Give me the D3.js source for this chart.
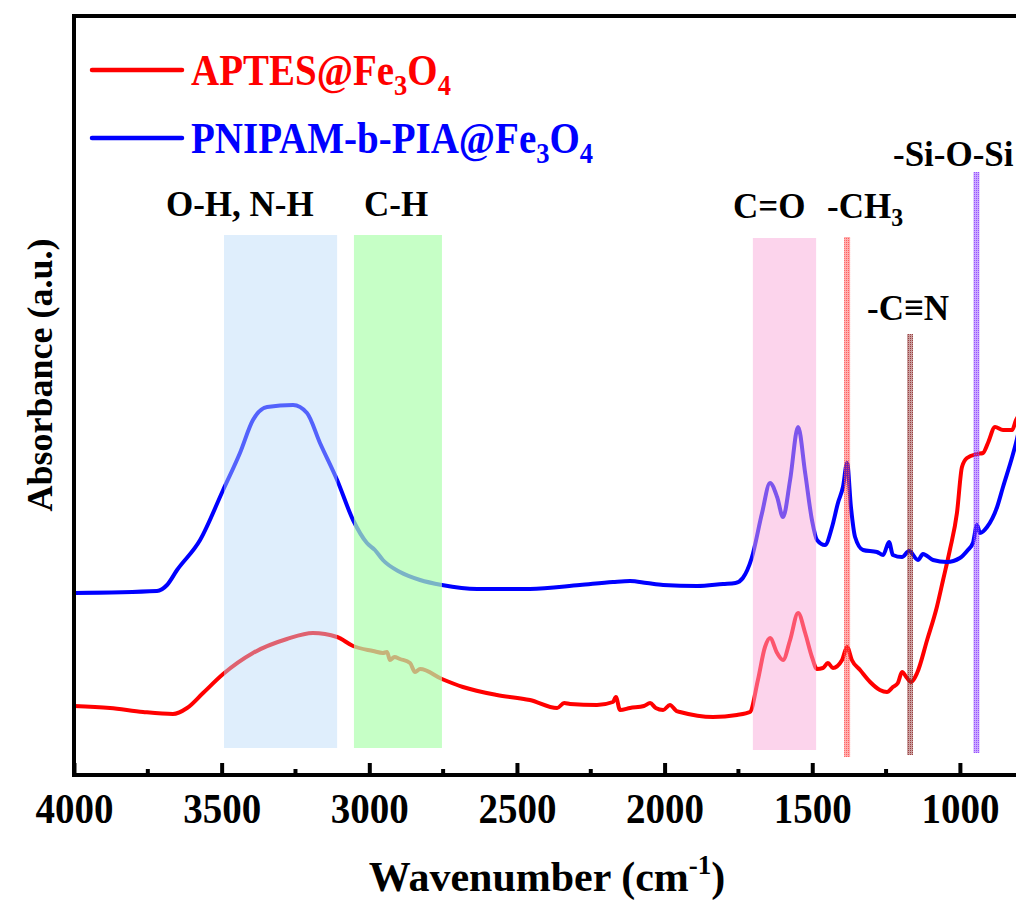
<!DOCTYPE html>
<html>
<head>
<meta charset="utf-8">
<script src="https://cdn.jsdelivr.net/npm/d3@7"></script>
<style>
	body { margin: 0; background: #fff; }
	text { font-family: "Liberation Serif", "Times New Roman", serif; font-weight: bold; }
</style>
</head>
<body>
<div id="chart"></div>
<script>
	// FTIR spectra, [wavenumber, absorbance (a.u.)]
	var aptes = [[4000,69],[3878,67],[3766,63],[3665,61],[3617,67],[3563,82],[3495,101],[3394,122],[3279,136],
		[3191,142],[3109,138],[3055,129],[2987,124],[2954,122],[2940,123],[2930,115],[2915,118],[2896,116],
		[2862,112],[2845,103],[2828,106],[2754,96],[2683,88],[2568,80],[2456,75],[2364,67],[2340,72],[2320,71],
		[2229,70],[2175,73],[2165,78],[2151,65],[2117,67],[2070,69],[2049,72],[2030,67],[2005,65],[1982,70],
		[1960,64],[1948,63],[1836,58],[1755,60],[1711,63],[1684,95],[1660,128],[1643,137],[1619,122],[1599,115],
		[1575,135],[1548,162],[1524,142],[1501,118],[1484,106],[1464,107],[1447,112],[1430,107],[1399,115],
		[1382,128],[1366,115],[1338,105],[1304,93],[1271,85],[1247,83],[1227,88],[1210,92],[1196,103],[1179,97],
		[1166,93],[1145,102],[1111,135],[1078,168],[1057,195],[1034,225],[1010,262],[993,308],[976,317],
		[942,321],[922,322],[905,332],[881,348],[854,345],[823,345],[810,355],[800,360]];

	var pnipam = [[4000,182],[3719,184],[3685,190],[3651,205],[3573,235],[3495,285],[3438,322],[3394,355],
		[3346,368],[3258,370],[3211,362],[3167,332],[3109,295],[3055,255],[3008,232],[2981,225],[2954,215],
		[2896,203],[2828,195],[2754,190],[2635,186],[2456,186],[2287,190],[2175,193],[2117,194],[2060,192],
		[2005,190],[1890,189],[1802,191],[1760,192],[1735,197],[1705,217],[1670,262],[1643,292],[1619,278],
		[1599,258],[1575,295],[1548,348],[1524,302],[1501,255],[1484,235],[1457,230],[1433,248],[1413,272],
		[1396,288],[1382,312],[1369,268],[1355,238],[1328,225],[1281,223],[1260,220],[1240,233],[1227,220],
		[1196,218],[1172,224],[1142,215],[1125,221],[1091,215],[1044,213],[1000,217],[973,225],[956,232],
		[942,250],[932,242],[908,248],[874,268],[854,288],[823,318],[810,332],[800,345]];

	var seriesNames = ['APTES@Fe|3|O|4', 'PNIPAM-b-PIA@Fe|3|O|4'];
	var seriesColors = ['#ff0000', '#0000ff'];

	// shaded assignment bands: wavenumber range and absorbance extent
	var bandRanges = [[3492,3109],[3052,2754],[1701,1487]];
	var bandSpan = [[27,540],[27,540],[25,537]];
	var bandColors = ['rgb(184,218,248)','rgb(174,255,174)','rgb(250,170,218)'];
	var bandAlpha = [0.45, 0.7, 0.5];

	// single-peak markers
	var peaks = [1382, 1169, 944];
	var peakSpan = [[18,538],[20,441],[22,603]];
	var peakColors = ['#ff4a4a', '#8b2a2a', '#8a3cff'];

	var xTicks = [4000, 3500, 3000, 2500, 2000, 1500, 1000];
	var xMinor = [3750, 3250, 2750, 2250, 1750, 1250];

	(function() {
		var width = 1016, height = 900;
		var mLeft = 74, mTop = 16, mBottom = 775;

		var svg = d3.select('#chart').append('svg')
					.attr('width', width)
					.attr('height', height);

		// hatch look for the narrow peak markers
		var defs = svg.append('defs');
		peakColors.forEach(function(c, i){
			var p = defs.append('pattern').attr('id', 'hatch' + i)
						.attr('width', 2).attr('height', 2).attr('patternUnits', 'userSpaceOnUse');
			p.append('rect').attr('width', 2).attr('height', 2).attr('fill', c).attr('fill-opacity', 0.45);
			p.append('rect').attr('width', 1).attr('height', 1).attr('fill', c).attr('fill-opacity', 0.8);
		});

		var x = d3.scaleLinear().domain([4000, 400]).range([mLeft, mLeft + 3600 * 0.2953]);
		var y = d3.scaleLinear().domain([0, 759]).range([mBottom, mTop]);

		svg.append('clipPath').attr('id', 'plotclip')
			.append('rect').attr('x', mLeft).attr('y', mTop).attr('width', width - mLeft).attr('height', mBottom - mTop);

		var plot = svg.append('g').attr('clip-path', 'url(#plotclip)');

		var line = d3.line()
					.x(function(d){ return x(d[0]); })
					.y(function(d){ return y(d[1]); })
					.curve(d3.curveMonotoneX);

		[aptes, pnipam].forEach(function(s, i){
			plot.append('path')
				.attr('d', line(s))
				.attr('fill', 'none')
				.attr('stroke', seriesColors[i])
				.attr('stroke-width', 4)
				.attr('stroke-linejoin', 'round');
		});

		// bands go on top of the curves
		plot.selectAll('rect.band')
			.data(bandRanges)
			.enter()
			.append('rect')
			.attr('class', 'band')
			.attr('x', function(d){ return x(d[0]); })
			.attr('width', function(d){ return x(d[1]) - x(d[0]); })
			.attr('y', function(d, i){ return y(bandSpan[i][1]); })
			.attr('height', function(d, i){ return y(bandSpan[i][0]) - y(bandSpan[i][1]); })
			.attr('fill', function(d, i){ return bandColors[i]; })
			.attr('fill-opacity', function(d, i){ return bandAlpha[i]; });

		plot.selectAll('rect.peak')
			.data(peaks)
			.enter()
			.append('rect')
			.attr('class', 'peak')
			.attr('x', function(d){ return x(d) - 3; })
			.attr('width', 6)
			.attr('y', function(d, i){ return y(peakSpan[i][1]); })
			.attr('height', function(d, i){ return y(peakSpan[i][0]) - y(peakSpan[i][1]); })
			.attr('fill', function(d, i){ return 'url(#hatch' + i + ')'; });

		// axes
		var xAxis = d3.axisBottom(x).tickValues(xTicks).tickSize(-12).tickPadding(20).tickFormat(d3.format('d'));
		var gx = svg.append('g').attr('transform', 'translate(0,' + mBottom + ')').call(xAxis);
		gx.select('.domain').remove();
		gx.selectAll('line').attr('stroke', '#000').attr('stroke-width', 4);
		gx.selectAll('text')
			.attr('font-size', 39).attr('fill', '#000').attr('font-family', null)
			.attr('y', null).attr('dy', null)
			.attr('transform', 'translate(0,48) scale(1,1.08)');

		svg.selectAll('line.minor')
			.data(xMinor)
			.enter()
			.append('line')
			.attr('class', 'minor')
			.attr('x1', function(d){ return x(d); })
			.attr('x2', function(d){ return x(d); })
			.attr('y1', mBottom)
			.attr('y2', mBottom - 6)
			.attr('stroke', '#000')
			.attr('stroke-width', 4);

		svg.append('path')
			.attr('d', 'M' + width + ',' + mTop + 'H' + mLeft + 'V' + mBottom + 'H' + width)
			.attr('fill', 'none')
			.attr('stroke', '#000')
			.attr('stroke-width', 4);

		// axis titles
		var xt = svg.append('text').attr('x', 547).attr('y', 891).attr('text-anchor', 'middle').attr('font-size', 42);
		xt.append('tspan').text('Wavenumber (cm');
		xt.append('tspan').attr('font-size', 27).attr('dy', -17).text('-1');
		xt.append('tspan').attr('dy', 17).text(')');

		svg.append('text')
			.attr('transform', 'translate(52,375) rotate(-90)')
			.attr('text-anchor', 'middle')
			.attr('font-size', 36)
			.text('Absorbance (a.u.)');

		// text with subscripts, parts split by |
		function subText(t, str, size){
			str.split('|').forEach(function(p, i){
				if (p === '') return;
				var ts = t.append('tspan').text(p);
				if (i % 2 == 1) ts.attr('font-size', size * 0.68).attr('dy', size * 0.22);
				else if (i > 0) ts.attr('dy', -size * 0.22);
			});
		}

		// legend
		seriesNames.forEach(function(n, i){
			var ly = 70 + i * 68;
			svg.append('line')
				.attr('x1', 92).attr('x2', 182).attr('y1', ly).attr('y2', ly)
				.attr('stroke', seriesColors[i]).attr('stroke-width', 4.5).attr('stroke-linecap', 'round');
			var t = svg.append('text')
						.attr('transform', 'translate(191,' + (ly + 15) + ') scale(1,1.15)')
						.attr('font-size', 39).attr('fill', seriesColors[i]);
			subText(t, n, 39);
		});

		// band labels
		var labels = [['O-H, N-H', 166, 216], ['C-H', 364, 216], ['C=O', 733, 218], ['-CH|3', 827, 218],
			['-C≡N', 867, 320], ['-Si-O-Si', 893, 166]];
		labels.forEach(function(l){
			var t = svg.append('text')
						.attr('transform', 'translate(' + l[1] + ',' + l[2] + ') scale(1,1.05)')
						.attr('font-size', 35).attr('fill', '#000');
			subText(t, l[0], 35);
		});
	})();
</script>
</body>
</html>
